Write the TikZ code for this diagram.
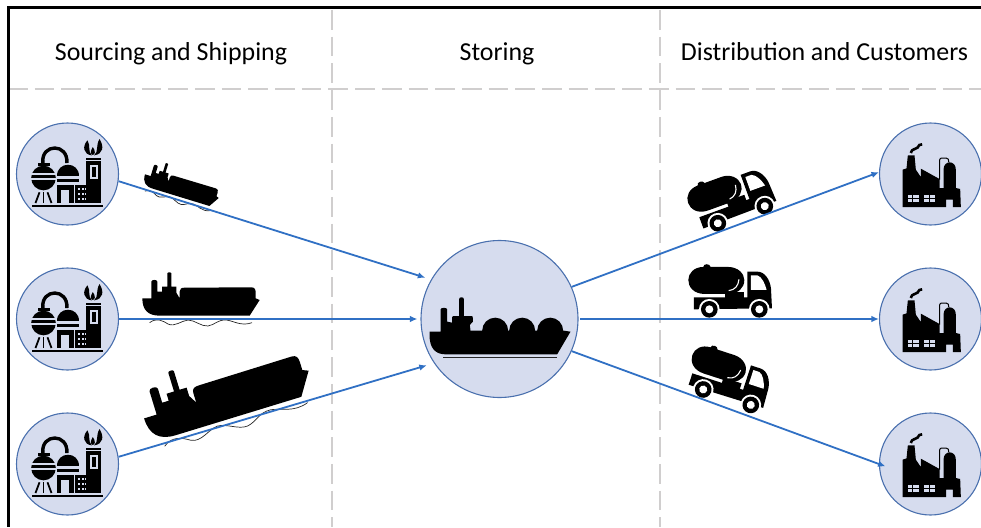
\documentclass[tikz,border=0pt]{standalone}
\usepackage{fontspec}
\setmainfont{Carlito}
\usetikzlibrary{arrows.meta}
\definecolor{sitefill}{HTML}{D6DCEE}
\definecolor{siteline}{HTML}{4A70AE}
\definecolor{flowblue}{HTML}{3070C4}
\definecolor{lanegray}{HTML}{D0CECE}
\tikzset{
  site/.style={circle,draw=siteline,fill=sitefill,line width=1.1pt,minimum size=102pt,inner sep=0pt},
  hubsite/.style={site,minimum size=157pt},
  title/.style={anchor=base,font=\fontsize{25.9}{30}\selectfont,text=black},
  lane/.style={draw=lanegray,line width=2.7pt,dash pattern=on 19.7pt off 7pt},
  flow/.style={draw=flowblue,line width=1.8pt,-{Latex[length=7.5pt,width=6.5pt]}},
  wave/.style={draw=black!85,line width=.7pt},
  refinery/.pic={
    \begin{scope}[scale=1/3,shift={(-202,-193)}]
    \fill (95,285) rectangle (308,292);
    % left vessel
    \fill (130,205) circle[radius=37];
    \fill[sitefill] (90,190) rectangle (170,195);
    \fill[sitefill] (90,205) rectangle (170,210);
    \fill (112,160) rectangle (148,170);
    \draw[line width=3.4pt] (128,160) .. controls (122,100) and (205,100) .. (200,160);
    \foreach \legx/\legy in {118/106,130/130,142/154}
      \draw[line width=1.8pt] (\legx,248) -- (\legy,280);
    % middle dome and block
    \fill (170,200) .. controls (170,155) and (235,155) .. (235,200) -- cycle;
    \fill (170,207) rectangle (235,216);
    \fill (170,225) rectangle (222,280);
    \fill[sitefill] (183,240) rectangle (207,280);
    % small block
    \fill (225,225) rectangle (268,280);
    \foreach \winx in {236,248,258}
      \foreach \winy in {238,252,267}
        \fill[sitefill] (\winx-3,\winy-3) rectangle (\winx+3,\winy+3);
    % tower
    \fill (256,144) rectangle (301,150);
    \fill (258,155) rectangle (301,280);
    \fill[sitefill] (268,167) rectangle (292,208);
    \fill (274,173) rectangle (286,201);
    % flame
    \fill (262,92) .. controls (245,110) and (250,135) .. (275,137) .. controls (262,125) and (272,108) .. (262,92) -- cycle;
    \fill (298,88) .. controls (312,110) and (310,133) .. (282,137) .. controls (296,125) and (286,108) .. (298,88) -- cycle;
    \fill (278,112) .. controls (270,124) and (270,134) .. (278,136) .. controls (286,134) and (286,124) .. (278,112) -- cycle;
    \end{scope}
  },
  tanker/.pic={
    \begin{scope}[scale=1/3,shift={(-604,-570)}]
    \fill (428,565) -- (455,565) -- (455,515) .. controls (455,508) and (473,508) .. (473,515)
      -- (473,545) -- (487,545) -- (487,530) -- (503,530) -- (503,490) .. controls (503,486) and (515,486) .. (515,490)
      -- (515,530) -- (530,530) -- (530,548) -- (540,565) -- (540,545) .. controls (540,536) and (545,533) .. (555,533)
      -- (755,532) .. controls (765,532) and (768,538) .. (768,548) -- (768,565) -- (780,570) -- (750,617) -- (480,617)
      .. controls (445,617) and (428,600) .. (428,565) -- cycle;
    \end{scope}
  },
  swell/.pic={
    \begin{scope}[scale=1/3,shift={(-604,-570)}]
    \draw[wave] (450,638) .. controls (470,622) and (490,632) .. (505,642) .. controls (525,652) and (545,632) .. (565,630)
      .. controls (585,630) and (605,650) .. (625,648) .. controls (645,645) and (655,628) .. (680,630)
      .. controls (700,632) and (725,650) .. (757,638);
    \end{scope}
  },
  lngship/.pic={
    \begin{scope}[scale=1/3,shift={(-297,-297)}]
    \fill (87,335) -- (120,335) -- (120,268) .. controls (120,262) and (140,262) .. (140,268) -- (140,305) -- (155,308)
      -- (155,292) .. controls (155,288) and (158,288) .. (162,288) -- (176,288) -- (176,237) .. controls (176,230) and (190,230) .. (190,237)
      -- (190,288) -- (212,288) .. controls (217,288) and (217,290) .. (217,295) -- (217,305) -- (208,315) -- (210,332)
      -- (490,332) -- (510,335) -- (470,403) -- (135,403) .. controls (105,403) and (87,385) .. (87,345) -- cycle;
    \foreach \domex in {284,365,449}
      \fill (\domex,332) circle[radius=39];
    \fill[black!85] (128,411) rectangle (468,414);
    \end{scope}
  },
  tankertruck/.pic={
    \begin{scope}[scale=1/3,shift={(-193,-568)}]
    % tank
    \fill (100,441) .. controls (100,430) and (120,430) .. (122,441) -- (175,441) .. controls (205,441) and (223,462) .. (223,480)
      .. controls (223,505) and (205,520) .. (175,522) -- (105,522) .. controls (70,522) and (55,500) .. (55,480) .. controls (55,460) and (72,441) .. (100,441) -- cycle;
    \fill (165,515) rectangle (222,534);
    \draw[white,line width=1.1pt] (176,512) .. controls (195,510) and (205,498) .. (207,478);
    % chassis and cab
    \fill (72,532) -- (232,532) -- (232,455) -- (262,455) .. controls (285,455) and (300,480) .. (303,505) -- (306,565) -- (72,568) -- cycle;
    \fill[white] (243,466) -- (262,466) .. controls (275,470) and (285,490) .. (290,510) -- (243,510) -- cycle;
    % wheels
    \foreach \wheelx in {118,268} {
      \fill[white] (\wheelx,568) circle[radius=31];
      \fill (\wheelx,568) circle[radius=25];
      \fill[white] (\wheelx,568) circle[radius=12];
    }
    \end{scope}
  },
  plant/.pic={
    \begin{scope}[scale=1/3,shift={(-781,-163)}]
    \fill (697,262) -- (697,150) -- (709,146) -- (713,107) -- (733,107) -- (737,150) -- (752,172) -- (752,147) -- (808,178)
      -- (808,205) -- (820,205) -- (820,150) .. controls (820,135) and (830,128) .. (838,128) .. controls (848,128) and (857,135) .. (857,150)
      -- (857,205) -- (870,208) -- (872,262) -- (848,262) -- (848,240) -- (828,240) -- (828,262) -- cycle;
    \draw[line width=1pt] (808,180) -- (808,122) .. controls (808,116) and (812,115) .. (816,115) -- (828,115) .. controls (834,115) and (836,120) .. (836,128);
    \fill[sitefill] (712,225) rectangle (745,247);
    \fill[sitefill] (760,225) rectangle (795,247);
    \draw[line width=.8pt] (728,225) -- (728,247) (712,236) -- (745,236) (777,225) -- (777,247) (760,236) -- (795,236);
    \draw[line width=2.6pt] (722,100) .. controls (725,85) and (735,92) .. (742,84) .. controls (746,78) and (748,72) .. (756,74);
    \end{scope}
  }
}
\begin{document}
\begin{tikzpicture}[x=1pt,y=-1pt]
\useasboundingbox (0,0) rectangle (981,527);

\draw[lane] (332,10) -- (332,527);
\draw[lane] (660,10) -- (660,527);
\draw[lane] (8,89) -- (981,89);
\draw[black,line width=3pt] (981,8) -- (8.5,8) -- (8.5,527);

\node[title] (titleA) at (171,60) {Sourcing and Shipping};
\node[title] (titleB) at (497,60) {Storing};
\node[title] (titleC) at (824.5,60) {Distribution and Customers};

\node[site] (srcA) at (67.5,174) {};
\node[site] (srcB) at (67.5,319) {};
\node[site] (srcC) at (67.5,464) {};
\node[hubsite] (hub) at (499.5,319) {};
\node[site] (plantA) at (930.5,174) {};
\node[site] (plantB) at (930.5,319) {};
\node[site] (plantC) at (930.5,464) {};

\pic at (srcA) {refinery};
\pic at (srcB) {refinery};
\pic at (srcC) {refinery};
\pic at (hub) {lngship};
\pic at (plantA) {plant};
\pic at (plantB) {plant};
\pic at (plantC) {plant};

\pic[rotate=-17,scale=.66] at (181.7,186.7) {tanker};
\pic[rotate=-17,scale=.66] at (181.7,186.7) {swell};
\pic at (201,300) {tanker};
\pic at (201,300) {swell};
\pic[rotate=17,scale=1.46] at (226.7,395.7) {tanker};
\pic[rotate=17,scale=1.46] at (226.7,392.7) {swell};

\pic[rotate=20] at (741.3,214.7) {tankertruck};
\pic at (734.3,309.3) {tankertruck};
\pic[rotate=-18] at (727,397.2) {tankertruck};

\draw[flow,shorten >=6pt] (srcA.-8) -- (hub.150);
\draw[flow,shorten >=3pt] (srcB.east) -- (hub.west);
\draw[flow,shorten >=7.5pt] (srcC.8) -- (hub.214);
\draw[flow] (hub.24) -- (plantA.178);
\draw[flow,shorten <=1.5pt] (hub.east) -- (plantB.west);
\draw[flow,shorten >=-7pt] (hub.-24) -- (plantC.west);
\end{tikzpicture}
\end{document}
